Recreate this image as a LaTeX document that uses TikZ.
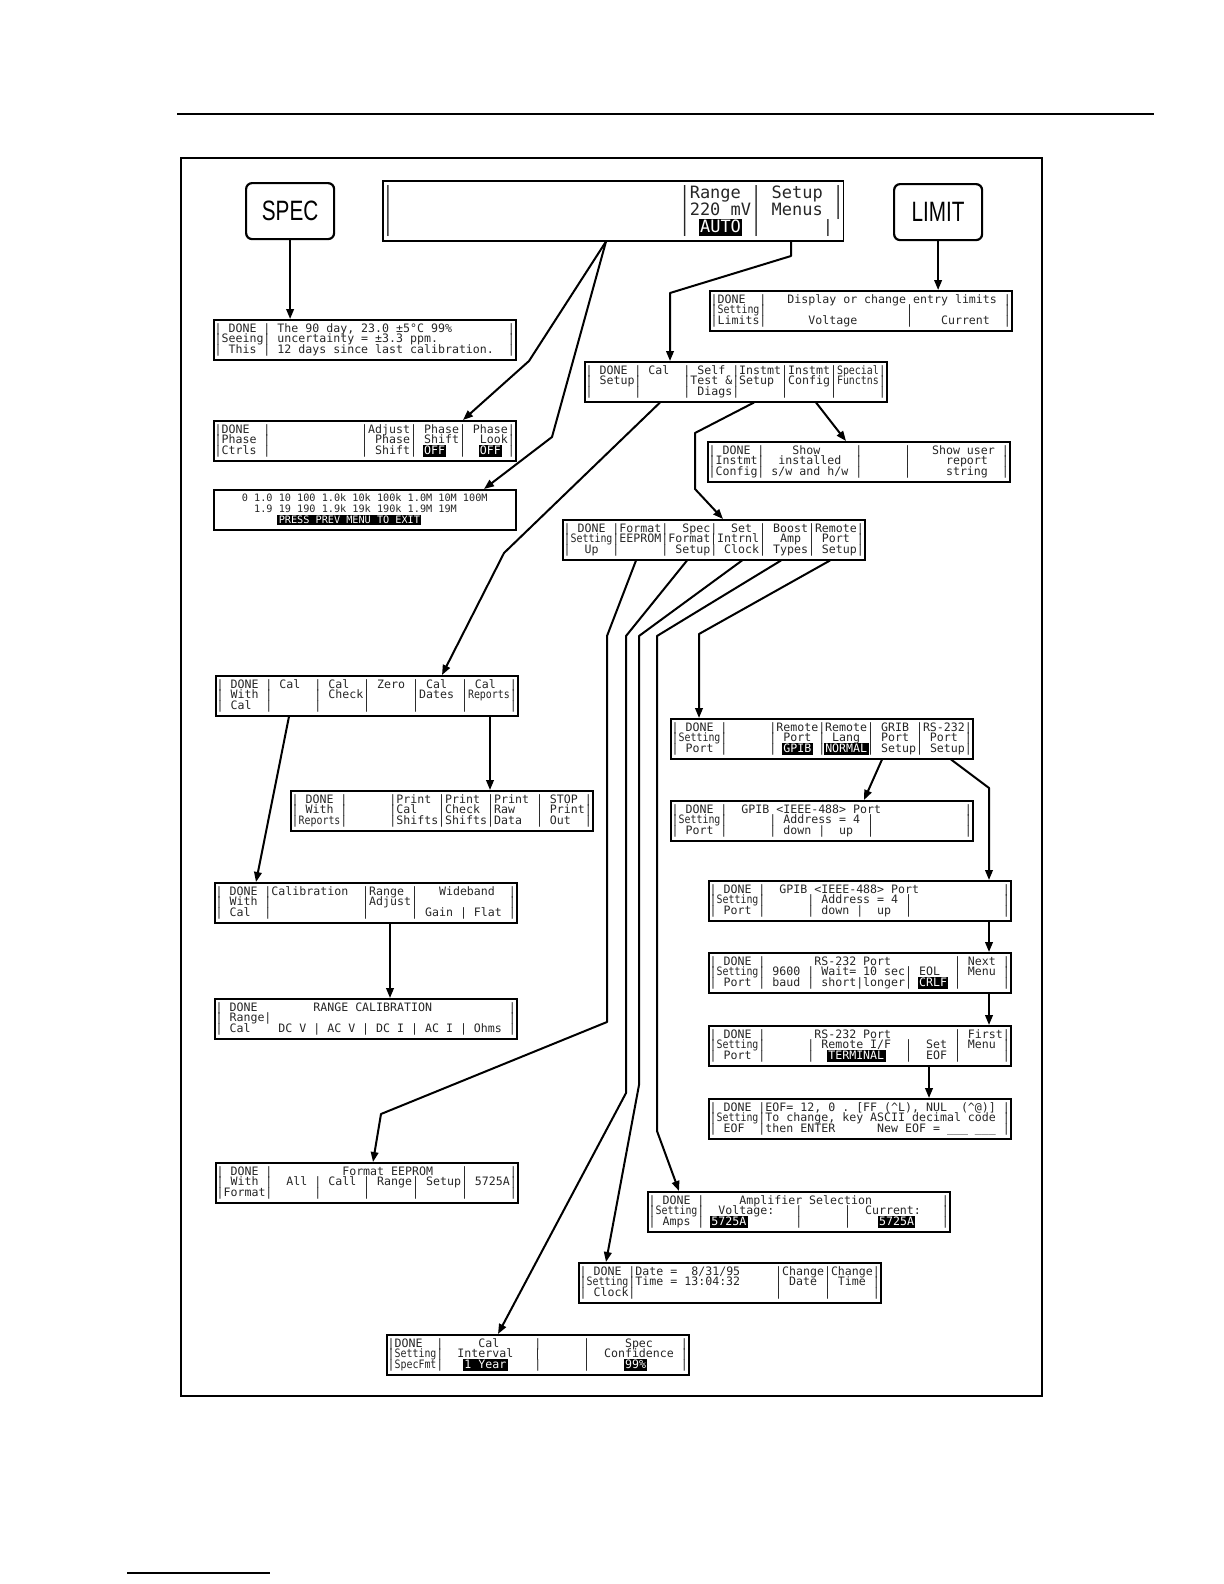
\documentclass[tikz,border=0pt]{standalone}
\usepackage{fontspec}
\usepackage{graphicx}
\usetikzlibrary{arrows.meta,calc}
\newfontfamily\lcdfont{DejaVu Sans Mono}
\newfontfamily\keyfont{Liberation Sans}
\newcommand\lcd{\lcdfont\fontsize{5.8}{5.3}\selectfont\lineskiplimit=-20pt\relax}
\newcommand\lcdbig{\lcdfont\fontsize{8.5}{8.6}\selectfont\lineskiplimit=-20pt\relax}
\newcommand\lcdsmall{\lcdfont\fontsize{5.1}{5.3}\selectfont\lineskiplimit=-20pt\relax}
% one display line, spaces kept as typed
\newcommand\dl{\begingroup\catcode`\ =12\catcode`\%=12\catcode`\^=12\catcode`\_=12\catcode`\&=12\relax\dlx}
\newcommand\dlx[1]{\hbox{#1}\endgroup}
% inverse video field
\newcommand\inv[1]{\setbox0\hbox{#1}\rlap{\kern-0.7pt\color{black}\rule[-0.24em]{\dimexpr\wd0+1.4pt\relax}{1.04em}}\textcolor{white}{\box0}}
% seven letters squeezed into a six-letter field
\newcommand\sq[1]{\scalebox{0.857}[1]{#1}}
\begin{document}
\begin{tikzpicture}[x=0.5pt, y=-0.5pt,
  menu/.style={draw, line width=0.75pt, anchor=north west, minimum width=151pt, minimum height=20pt, inner sep=0pt, text=black!85, font=\lcd},
  key/.style={draw, line width=1.1pt, rounded corners=3pt, anchor=north west, minimum width=44pt, minimum height=28pt, inner sep=0pt, font=\keyfont\fontsize{14}{14}\selectfont},
  arr/.style={-{Triangle[length=5pt,width=3.8pt]}, line width=1pt, line join=round}]
  \useasboundingbox (0,0) rectangle (1224,1584);
  \draw[line width=0.6pt] (177,114) -- (1154,114);
  \draw[line width=0.8pt] (181,158) rectangle (1042,1396);
  \draw[line width=0.6pt] (127,1573) -- (270,1573);

  \node[key] (spec) at (245,182) {\scalebox{0.74}[1]{SPEC}};
  \node[key] (limit) at (893,183) {\scalebox{0.74}[1]{LIMIT}};
  \node[menu, font=\lcdbig, minimum width=229pt, minimum height=30pt] (top) at (382,180) {\vbox{
    \dl{|                            |Range | Setup |}
    \dl{|                            |220 mV| Menus |}
    \dl{|                            | \inv{AUTO} |      |}}};

  \node[menu] (specres) at (213,319) {\vbox{
    \dl{| DONE | The 90 day, 23.0 ±5°C 99%        |}
    \dl{|Seeing| uncertainty = ±3.3 ppm.          |}
    \dl{| This | 12 days since last calibration.  |}}};
  \node[menu] (limbox) at (709,290) {\vbox{
    \dl{|DONE  |   Display or change entry limits |}
    \dl{|\sq{Setting}|                    |             |}
    \dl{|Limits|      Voltage       |    Current  |}}};
  \node[menu] (setup) at (584,361) {\vbox{
    \dl{| DONE | Cal  | Self |Instmt|Instmt|\sq{Special}|}
    \dl{| Setup|      |Test &|Setup |Config|\sq{Functns}|}
    \dl{|      |      | Diags|      |      |      |}}};
  \node[menu] (phase) at (213,420) {\vbox{
    \dl{|DONE  |             |Adjust| Phase| Phase|}
    \dl{|Phase |             | Phase| Shift|  Look|}
    \dl{|Ctrls |             | Shift| \inv{OFF}  |  \inv{OFF} |}}};
  \node[menu, font=\lcdsmall] (ranges) at (213,489) {\vbox{
    \dl{0 1.0 10 100 1.0k 10k 100k 1.0M 10M 100M}
    \dl{  1.9 19 190 1.9k 19k 190k 1.9M 19M}
    \dl{      \inv{PRESS PREV MENU TO EXIT}}}};
  \node[menu] (config) at (707,441) {\vbox{
    \dl{| DONE |    Show     |      |   Show user |}
    \dl{|Instmt|  installed  |      |     report  |}
    \dl{|Config| s/w and h/w |      |     string  |}}};
  \node[menu] (settingup) at (562,519) {\vbox{
    \dl{| DONE |Format|  Spec|  Set | Boost|Remote|}
    \dl{|\sq{Setting}|EEPROM|Format|Intrnl|  Amp | Port |}
    \dl{|  Up  |      | Setup| Clock| Types| Setup|}}};

  \node[menu] (cal) at (215,675) {\vbox{
    \dl{| DONE | Cal  | Cal  | Zero | Cal  | Cal  |}
    \dl{| With |      | Check|      |Dates |\sq{Reports}|}
    \dl{| Cal  |      |      |      |      |      |}}};
  \node[menu] (reports) at (290,790) {\vbox{
    \dl{| DONE |      |Print |Print |Print | STOP |}
    \dl{| With |      |Cal   |Check |Raw   | Print|}
    \dl{|\sq{Reports}|      |Shifts|Shifts|Data  | Out  |}}};
  \node[menu] (calib) at (214,882) {\vbox{
    \dl{| DONE |Calibration  |Range |   Wideband  |}
    \dl{| With |             |Adjust|             |}
    \dl{| Cal  |             |      | Gain | Flat |}}};
  \node[menu] (rangecal) at (214,998) {\vbox{
    \dl{| DONE        RANGE CALIBRATION           |}
    \dl{| Range|                                  |}
    \dl{| Cal    DC V | AC V | DC I | AC I | Ohms |}}};
  \node[menu] (format) at (215,1162) {\vbox{
    \dl{| DONE |          Format EEPROM    |      |}
    \dl{| With |  All | Call | Range| Setup| 5725A|}
    \dl{|Format|      |      |      |      |      |}}};

  \node[menu] (remote) at (670,718) {\vbox{
    \dl{| DONE |      |Remote|Remote| GRIB |RS-232|}
    \dl{|\sq{Setting}|      | Port | Lang | Port | Port |}
    \dl{| Port |      | \inv{GPIB} |\inv{NORMAL}| Setup| Setup|}}};
  \node[menu] (gpibA) at (670,800) {\vbox{
    \dl{| DONE |  GPIB <IEEE-488> Port            |}
    \dl{|\sq{Setting}|      | Address = 4 |             |}
    \dl{| Port |      | down |  up  |             |}}};
  \node[menu] (gpibB) at (708,880) {\vbox{
    \dl{| DONE |  GPIB <IEEE-488> Port            |}
    \dl{|\sq{Setting}|      | Address = 4 |             |}
    \dl{| Port |      | down |  up  |             |}}};
  \node[menu] (rsA) at (708,952) {\vbox{
    \dl{| DONE |       RS-232 Port         | Next |}
    \dl{|\sq{Setting}| 9600 | Wait= 10 sec| EOL  | Menu |}
    \dl{| Port | baud | short|longer| \inv{CRLF} |      |}}};
  \node[menu] (rsB) at (708,1025) {\vbox{
    \dl{| DONE |       RS-232 Port         | First|}
    \dl{|\sq{Setting}|      | Remote I/F  |  Set | Menu |}
    \dl{| Port |      |  \inv{TERMINAL}   |  EOF |      |}}};
  \node[menu] (eof) at (708,1098) {\vbox{
    \dl{| DONE |EOF= 12, 0 . [FF (^L), NUL  (^@)] |}
    \dl{|\sq{Setting}|To change, key ASCII decimal code |}
    \dl{| EOF  |then ENTER      New EOF = ___ ___ |}}};
  \node[menu] (amps) at (647,1191) {\vbox{
    \dl{| DONE |     Amplifier Selection          |}
    \dl{|\sq{Setting}|  Voltage:   |      |  Current:   |}
    \dl{| Amps | \inv{5725A}       |      |    \inv{5725A}    |}}};
  \node[menu] (clock) at (578,1262) {\vbox{
    \dl{| DONE |Date =  8/31/95     |Change|Change|}
    \dl{|\sq{Setting}|Time = 13:04:32     | Date | Time |}
    \dl{| Clock|                    |      |      |}}};
  \node[menu] (specfmt) at (386,1334) {\vbox{
    \dl{|DONE  |     Cal     |      |     Spec    |}
    \dl{|\sq{Setting}|  Interval   |      |  Confidence |}
    \dl{|\sq{SpecFmt}|   \inv{1 Year}    |      |     \inv{99%}     |}}};

  % bends
  \coordinate (k1) at (529,361);
  \coordinate (k2) at (552,437);
  \coordinate (k3) at (504,553);
  \coordinate (k4a) at (791,256); \coordinate (k4b) at (670,293);
  \coordinate (k5a) at (695,433); \coordinate (k5b) at (695,489);
  \coordinate (k9a) at (607,636); \coordinate (k9b) at (607,1022); \coordinate (k9c) at (381,1114);
  \coordinate (k10a) at (626,636); \coordinate (k10b) at (626,1093);
  \coordinate (k11a) at (639,636); \coordinate (k11b) at (639,1085);
  \coordinate (k12a) at (657,636); \coordinate (k12b) at (657,1131);
  \coordinate (k13) at (699,634);
  \coordinate (k18) at (989,788);

  \draw[arr] (spec.south) -- (spec.south |- specres.north);
  \draw[arr] (limit.south) -- (limit.south |- limbox.north);
  \draw[arr] ($(top.south west)+(224,0)$) -- (k1) -- ($(phase.north west)+(250,0)$);
  \draw[arr] ($(top.south west)+(224,0)$) -- (k2) -- ($(ranges.north west)+(271,0)$);
  \draw[arr] ($(top.south west)+(409,0)$) -- (k4a) -- (k4b) -- (k4b |- setup.north);
  \draw[arr] ($(setup.south west)+(76,0)$) -- (k3) -- ($(cal.north west)+(227,0)$);
  \draw[arr] ($(setup.south west)+(170,0)$) -- (k5a) -- (k5b) -- ($(settingup.north west)+(161,0)$);
  \draw[arr] ($(setup.south west)+(232,0)$) -- ($(config.north west)+(139,0)$);
  \draw[arr] ($(settingup.south west)+(74,0)$) -- (k9a) -- (k9b) -- (k9c) -- ($(format.north west)+(158,0)$);
  \draw[arr] ($(settingup.south west)+(125,0)$) -- (k10a) -- (k10b) -- ($(specfmt.north west)+(112,0)$);
  \draw[arr] ($(settingup.south west)+(180,0)$) -- (k11a) -- (k11b) -- ($(clock.north west)+(28,0)$);
  \draw[arr] ($(settingup.south west)+(219,0)$) -- (k12a) -- (k12b) -- ($(amps.north west)+(32,0)$);
  \draw[arr] ($(settingup.south west)+(268,0)$) -- (k13) -- (k13 |- remote.north);
  \draw[arr] ($(cal.south west)+(74,0)$) -- ($(calib.north west)+(42,0)$);
  \draw[arr] ($(cal.south west)+(275,0)$) coordinate (c15) -- (c15 |- reports.north);
  \draw[arr] ($(calib.south west)+(176,0)$) coordinate (c16) -- (c16 |- rangecal.north);
  \draw[arr] ($(remote.south west)+(212,0)$) -- ($(gpibA.north west)+(194,0)$);
  \draw[arr] ($(remote.south west)+(281,0)$) -- (k18) -- (k18 |- gpibB.north);
  \draw[arr] ($(gpibB.south west)+(281,0)$) coordinate (c19) -- (c19 |- rsA.north);
  \draw[arr] ($(rsA.south west)+(281,0)$) coordinate (c20) -- (c20 |- rsB.north);
  \draw[arr] ($(rsB.south west)+(221,0)$) coordinate (c21) -- (c21 |- eof.north);
\end{tikzpicture}
\end{document}
